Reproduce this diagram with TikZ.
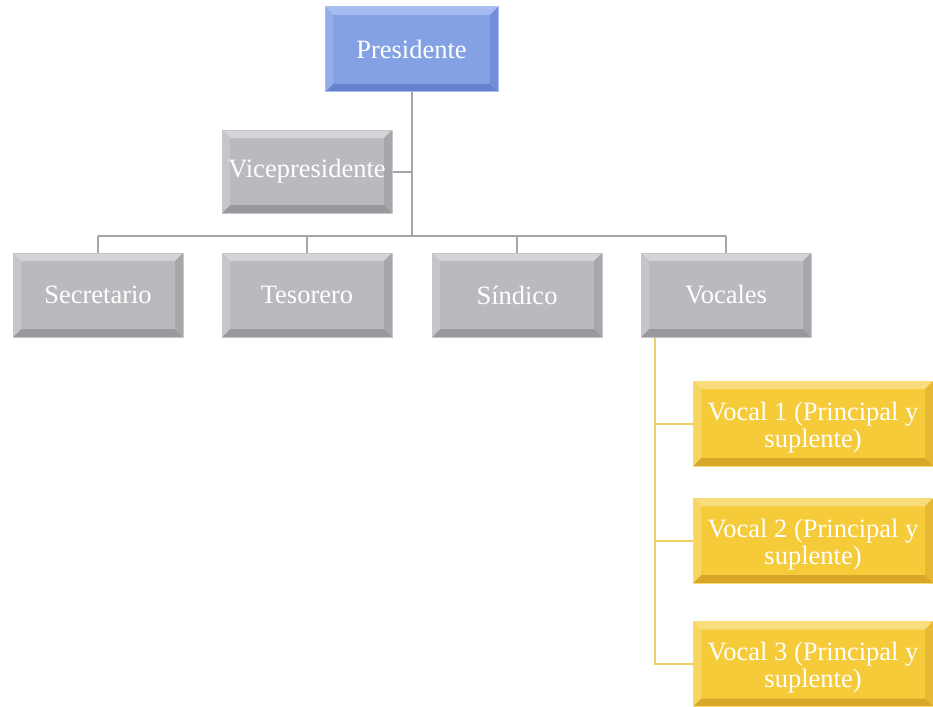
\documentclass[tikz,border=0pt]{standalone}
\usepackage{fontspec}
\setmainfont{Liberation Serif}
\definecolor{gface}{HTML}{B9B9BE}
\definecolor{gtop}{HTML}{D4D4D8}
\definecolor{gbot}{HTML}{98989D}
\definecolor{gleft}{HTML}{C6C6CA}
\definecolor{gright}{HTML}{A6A6AB}
\definecolor{gline}{HTML}{A6A6A6}
\definecolor{bface}{HTML}{84A1E4}
\definecolor{btop}{HTML}{A6BBEF}
\definecolor{bbot}{HTML}{6282CE}
\definecolor{bleft}{HTML}{93ADE9}
\definecolor{bright}{HTML}{708FD8}
\definecolor{yface}{HTML}{F5CB3A}
\definecolor{ytop}{HTML}{F9DD7C}
\definecolor{ybot}{HTML}{D8A72A}
\definecolor{yleft}{HTML}{F7D560}
\definecolor{yright}{HTML}{E6B833}
\definecolor{yline}{HTML}{F0D060}
\newcommand\mybevel[4]{%
 \fill[#1] (path picture bounding box.north west) -- (path picture bounding box.north east) -- ([xshift=-8pt,yshift=-8pt]path picture bounding box.north east) -- ([xshift=8pt,yshift=-8pt]path picture bounding box.north west) -- cycle;
 \fill[#2] (path picture bounding box.south west) -- (path picture bounding box.south east) -- ([xshift=-8pt,yshift=8pt]path picture bounding box.south east) -- ([xshift=8pt,yshift=8pt]path picture bounding box.south west) -- cycle;
 \fill[#3] (path picture bounding box.north west) -- (path picture bounding box.south west) -- ([xshift=8pt,yshift=8pt]path picture bounding box.south west) -- ([xshift=8pt,yshift=-8pt]path picture bounding box.north west) -- cycle;
 \fill[#4] (path picture bounding box.north east) -- (path picture bounding box.south east) -- ([xshift=-8pt,yshift=8pt]path picture bounding box.south east) -- ([xshift=-8pt,yshift=-8pt]path picture bounding box.north east) -- cycle;
}
\tikzset{
 boxtext/.style={text=white, font=\fontsize{26.5}{27}\selectfont, align=center, inner sep=0pt},
 boxbase/.style={rectangle, boxtext, line width=1pt},
 graybox/.style={boxbase, fill=gface, draw=gface!80!white, minimum width=170pt, minimum height=84pt, path picture={\mybevel{gtop}{gbot}{gleft}{gright}}},
 bluebox/.style={boxbase, fill=bface, draw=bface!70!white, minimum width=173pt, minimum height=85pt, path picture={\mybevel{btop}{bbot}{bleft}{bright}}},
 yellowbox/.style={boxbase, fill=yface, draw=yface!70!white, minimum width=240pt, minimum height=85pt, path picture={\mybevel{ytop}{ybot}{yleft}{yright}}},
 gconn/.style={draw=gline, line width=2pt},
 yconn/.style={draw=yline, line width=2pt},
}
\begin{document}
\begin{tikzpicture}[x=1pt,y=-1pt]
\useasboundingbox (0,0) rectangle (933,706);
\node[bluebox] (pres) at (411.5,49.5) {Presidente};
\node[graybox, minimum height=83pt] (vice) at (307,171.5) {Vicepresidente};
\node[graybox] (sec) at (98,295) {Secretario};
\node[graybox] (tes) at (307,295) {Tesorero};
\node[graybox] (sin) at (517,295) {Síndico};
\node[graybox] (voc) at (726,295) {Vocales};
\node[yellowbox, label={[boxtext, yshift=-4pt]center:Vocal 1 (Principal y\\suplente)}] (v1) at (813,423.5) {};
\node[yellowbox, label={[boxtext, yshift=-4pt]center:Vocal 2 (Principal y\\suplente)}] (v2) at (813,540.5) {};
\node[yellowbox, label={[boxtext, yshift=-4pt]center:Vocal 3 (Principal y\\suplente)}] (v3) at (813,664) {};
\coordinate (bar) at (0,236);
\coordinate (yx) at (655,0);
\draw[gconn] (pres.south) -- (pres.south |- bar);
\draw[gconn] (vice.east) -- (vice.east -| pres.south);
\draw[gconn] (sec.north |- bar) -- (voc.north |- bar);
\foreach \n in {sec,tes,sin,voc} \draw[gconn] (\n.north) -- (\n.north |- bar);
\draw[yconn] (voc.south -| yx) |- (v3.west);
\draw[yconn] (v1.west) -- (v1.west -| yx);
\draw[yconn] (v2.west) -- (v2.west -| yx);
\end{tikzpicture}
\end{document}
